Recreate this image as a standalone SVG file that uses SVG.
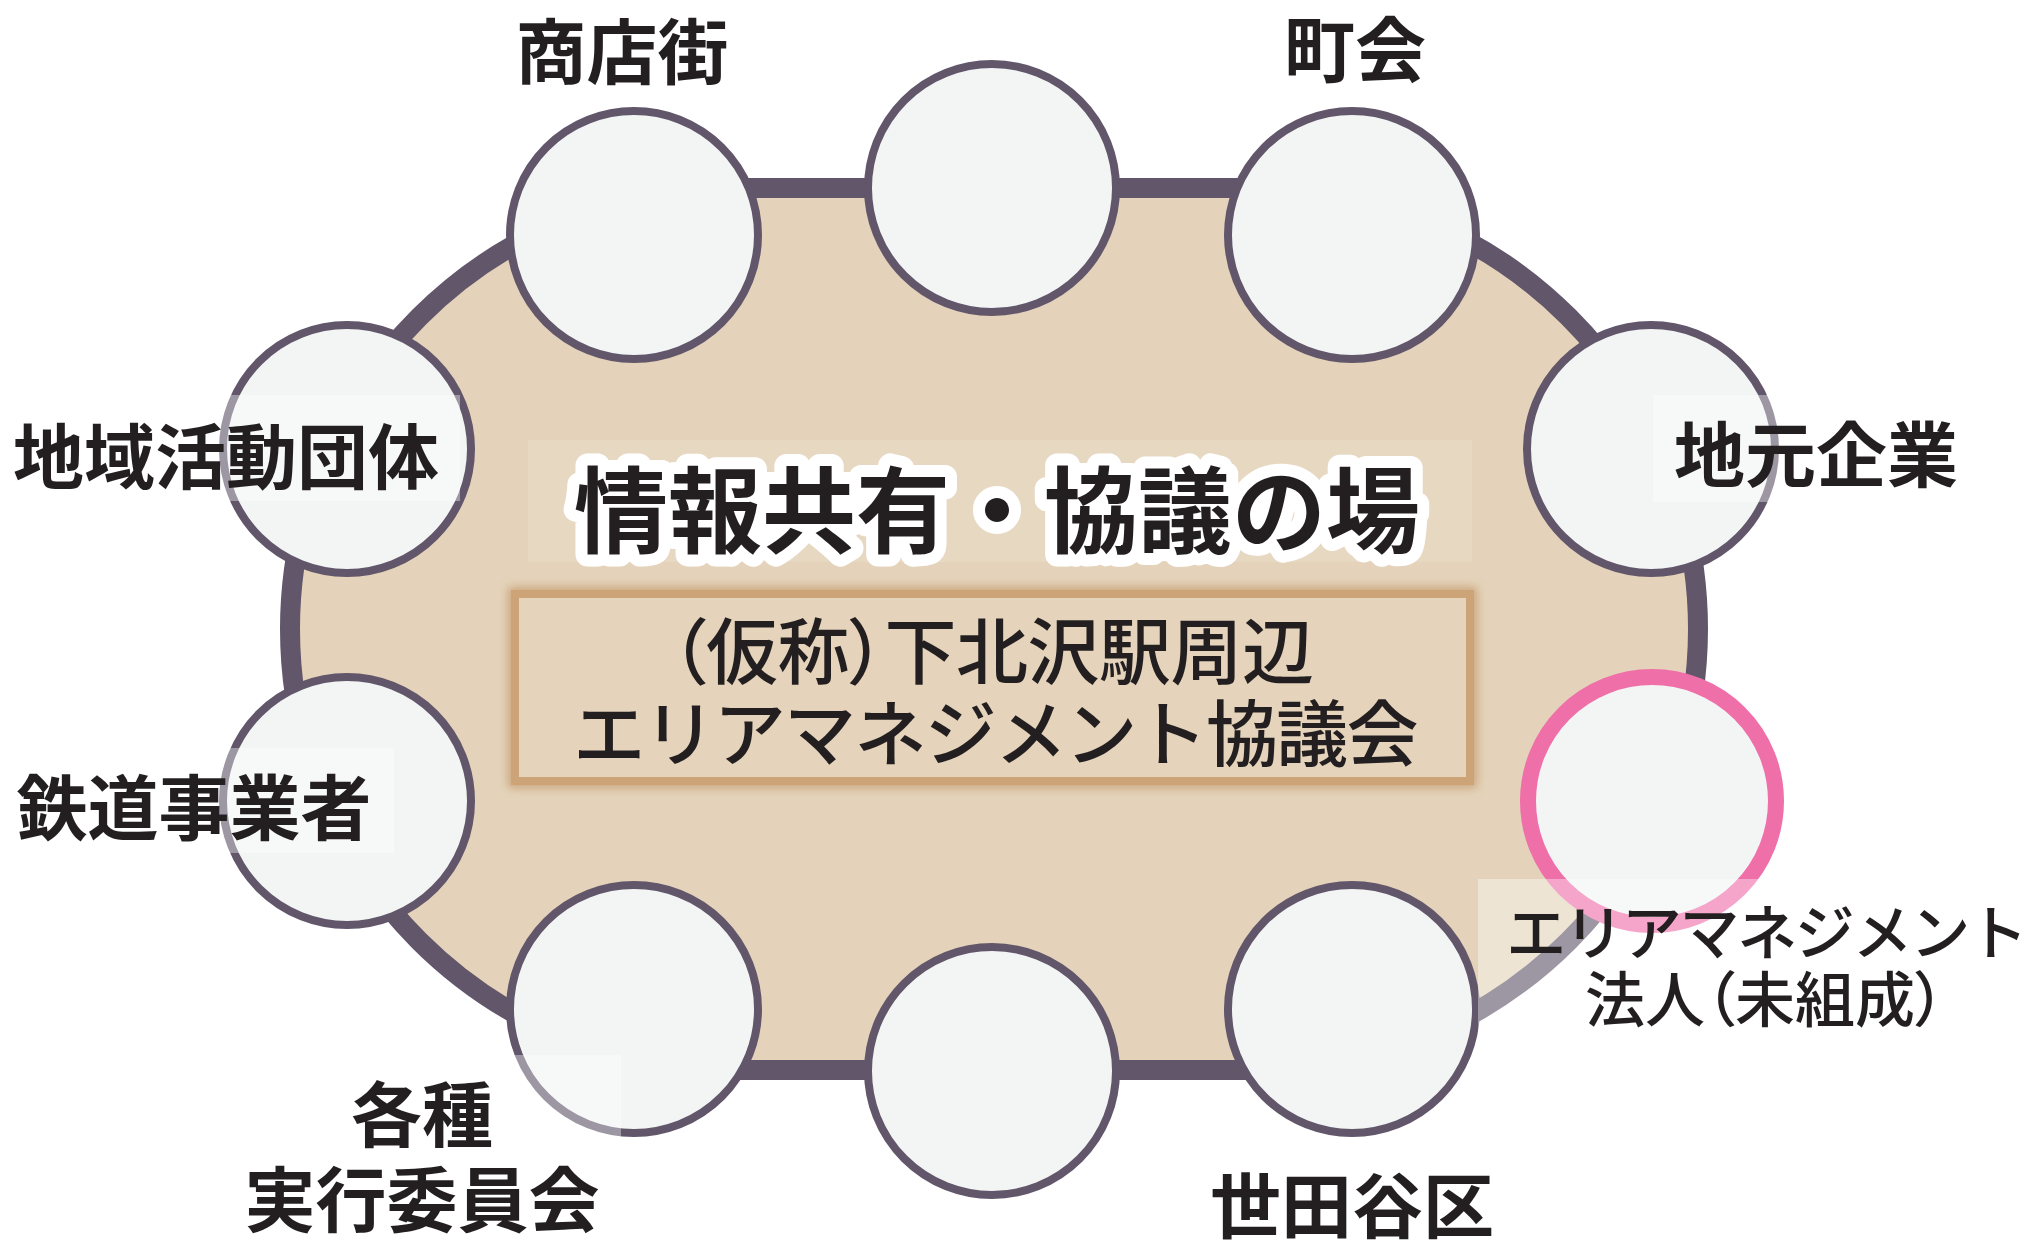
<svg xmlns="http://www.w3.org/2000/svg" width="2029" height="1245" viewBox="0 0 2029 1245">
<defs>
<style>
.c{fill:#f3f5f4;stroke:#62566b;stroke-width:8}
.cp{fill:#f3f5f4;stroke:#ef6fa9;stroke-width:16}
.lbl{font-family:"Noto Sans CJK JP","Noto Sans CJK SC",sans-serif;font-weight:700;font-size:71px;fill:#231f20;text-anchor:middle}
.lbl2{font-family:"Noto Sans CJK JP","Noto Sans CJK SC",sans-serif;font-weight:500;font-size:60px;fill:#231f20;text-anchor:middle}
.box{font-family:"Noto Sans CJK JP","Noto Sans CJK SC",sans-serif;font-weight:500;font-size:72px;fill:#231f20;text-anchor:middle}
.title{font-family:"Noto Sans CJK JP","Noto Sans CJK SC",sans-serif;font-weight:700;font-size:94px;fill:#231f20;text-anchor:middle;stroke:#ffffff;stroke-width:24px;stroke-linejoin:round;paint-order:stroke fill}
.palt{font-feature-settings:"palt" 1}
.veil{fill:#ffffff;opacity:0.38}
</style>
<filter id="glow" x="-10%" y="-20%" width="120%" height="140%">
<feGaussianBlur stdDeviation="5"/>
</filter>
</defs>
<rect x="0" y="0" width="2029" height="1245" fill="#ffffff"/>
<g id="table">
<rect x="290" y="188" width="1408" height="882" rx="441" ry="441" fill="#e4d3ba" stroke="#62566b" stroke-width="20"/>
</g>
<g id="title">
<rect x="528" y="440" width="944" height="122" fill="#ffffff" opacity="0.12"/>
<text class="title" x="997" y="546">情報共有・協議の場</text>
</g>
<g id="council">
<rect x="515" y="594" width="955" height="187" fill="none" stroke="#c49a6c" stroke-width="14" filter="url(#glow)" opacity="0.8"/>
<rect x="515" y="594" width="955" height="187" fill="#e5d4bb" stroke="#cda477" stroke-width="8"/>
<text class="box palt" x="992" y="678" style="letter-spacing:-0.5px">（仮称）下北沢駅周辺</text>
<text class="box" x="995" y="760" style="letter-spacing:-1.7px">エリアマネジメント協議会</text>
</g>
<g id="connectors"/>
<g id="node-shotengai"><circle class="c" cx="634" cy="235" r="124"/></g>
<g id="node-top-middle"><circle class="c" cx="992" cy="188" r="124"/></g>
<g id="node-chokai"><circle class="c" cx="1352" cy="235" r="124"/></g>
<g id="node-chiiki"><circle class="c" cx="347" cy="449" r="124"/></g>
<g id="node-jimoto"><circle class="c" cx="1651" cy="449" r="124"/></g>
<g id="node-tetsudo"><circle class="c" cx="347" cy="801" r="124"/></g>
<g id="node-areamanagement"><circle class="cp" cx="1652" cy="801" r="124"/></g>
<g id="node-kakushu"><circle class="c" cx="634" cy="1009" r="124"/></g>
<g id="node-bottom-middle"><circle class="c" cx="992" cy="1071" r="124"/></g>
<g id="node-setagaya"><circle class="c" cx="1352" cy="1009" r="124"/></g>
<g id="labels">
<rect class="veil" x="6" y="395" width="454" height="106"/>
<rect class="veil" x="1653" y="395" width="310" height="107"/>
<rect class="veil" x="8" y="748" width="386" height="105"/>
<rect class="veil" x="300" y="1055" width="321" height="185"/>
<rect class="veil" x="1478" y="879" width="551" height="160"/>
<text class="lbl" x="622" y="78">商店街</text>
<text class="lbl" x="1355" y="76">町会</text>
<text class="lbl" x="226" y="483">地域活動団体</text>
<text class="lbl" x="1816" y="481">地元企業</text>
<text class="lbl" x="194" y="834">鉄道事業者</text>
<text class="lbl" x="422" y="1141">各種</text>
<text class="lbl" x="422" y="1226">実行委員会</text>
<text class="lbl" x="1352" y="1232">世田谷区</text>
<text class="lbl2" x="1766" y="955" style="letter-spacing:-2.3px">エリアマネジメント</text>
<text class="lbl2 palt" x="1765" y="1022">法人（未組成）</text>
</g>
</svg>
